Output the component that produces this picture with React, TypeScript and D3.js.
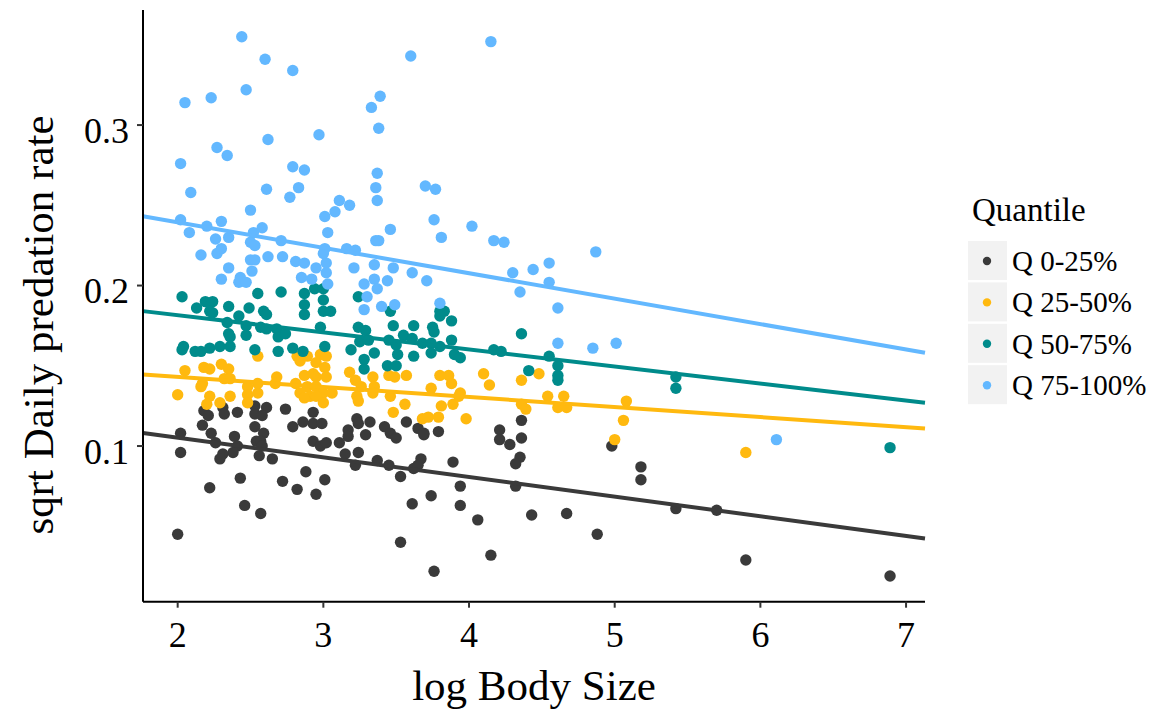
import React from "react";
import * as d3 from "d3";

const groups = ["Q 0-25%", "Q 25-50%", "Q 50-75%", "Q 75-100%"];
const colors = ["#3A3A3A", "#FFB90F", "#008B8B", "#63B8FF"];

const q1: [number, number][] = [
  [2.18, 0.122], [2.21, 0.119], [2.31, 0.124], [2.32, 0.12], [2.41, 0.121], [2.53, 0.125], [2.53, 0.12], [2.61, 0.124],
  [2.58, 0.119], [2.74, 0.123], [2.93, 0.121], [2.86, 0.115], [2.93, 0.114], [2.99, 0.114], [2.79, 0.112], [2.17, 0.113],
  [2.02, 0.108], [2.23, 0.108], [2.26, 0.102], [2.39, 0.106], [2.53, 0.112], [2.59, 0.108], [2.54, 0.103], [2.57, 0.103],
  [2.58, 0.1], [2.41, 0.1], [2.38, 0.096], [2.31, 0.095], [2.29, 0.092], [2.56, 0.094], [2.65, 0.092], [2.02, 0.096],
  [2.93, 0.103], [2.98, 0.1], [3.02, 0.102], [2.88, 0.084], [2.43, 0.08], [2.72, 0.078], [2.82, 0.073], [2.95, 0.07],
  [3.01, 0.079], [2.22, 0.074], [2.46, 0.063], [2.57, 0.058], [2.0, 0.045], [3.23, 0.117], [3.24, 0.114], [3.32, 0.115],
  [3.17, 0.11], [3.17, 0.106], [3.29, 0.107], [3.11, 0.102], [3.42, 0.112], [3.46, 0.108], [3.5, 0.105], [3.57, 0.115],
  [3.65, 0.111], [3.69, 0.107], [3.69, 0.108], [3.79, 0.109], [4.21, 0.11], [4.21, 0.104], [3.15, 0.095], [3.24, 0.096],
  [3.22, 0.088], [3.37, 0.091], [3.45, 0.088], [3.67, 0.092], [3.62, 0.086], [3.65, 0.088], [3.53, 0.081], [3.89, 0.09],
  [3.94, 0.075], [3.94, 0.063], [3.74, 0.069], [3.61, 0.064], [4.06, 0.054], [3.53, 0.04], [4.15, 0.032], [3.76, 0.022],
  [4.36, 0.116], [4.28, 0.101], [4.36, 0.105], [4.35, 0.093], [4.32, 0.089], [4.98, 0.1], [5.18, 0.087], [5.18, 0.079],
  [4.32, 0.075], [4.43, 0.057], [4.67, 0.058], [4.88, 0.045], [5.42, 0.061], [5.7, 0.06], [5.9, 0.029], [6.89, 0.019],
];

const q2: [number, number][] = [
  [2.55, 0.156], [2.05, 0.147], [2.18, 0.149], [2.22, 0.148], [2.3, 0.151], [2.35, 0.148], [2.32, 0.142], [2.36, 0.142],
  [2.17, 0.139], [2.16, 0.137], [2.0, 0.132], [2.22, 0.131], [2.36, 0.131], [2.48, 0.137], [2.48, 0.132], [2.55, 0.133],
  [2.55, 0.139], [2.68, 0.143], [2.67, 0.139], [2.82, 0.156], [2.84, 0.153], [2.89, 0.156], [2.98, 0.157], [3.02, 0.156],
  [2.95, 0.152], [3.01, 0.149], [2.93, 0.145], [2.87, 0.144], [2.95, 0.143], [3.02, 0.143], [2.81, 0.139], [2.89, 0.137],
  [2.95, 0.137], [2.84, 0.133], [2.91, 0.131], [3.0, 0.133], [3.18, 0.146], [3.22, 0.141], [3.34, 0.143], [3.26, 0.137],
  [3.35, 0.137], [3.45, 0.144], [3.49, 0.143], [3.57, 0.144], [3.8, 0.144], [3.86, 0.144], [3.88, 0.139], [4.1, 0.145],
  [4.14, 0.138], [3.74, 0.136], [3.94, 0.133], [2.2, 0.126], [2.29, 0.127], [2.48, 0.127], [2.87, 0.13], [2.95, 0.131],
  [3.0, 0.127], [3.06, 0.133], [3.23, 0.131], [3.24, 0.128], [3.34, 0.133], [3.46, 0.131], [3.56, 0.126], [3.48, 0.121],
  [3.68, 0.117], [3.72, 0.118], [3.79, 0.118], [3.81, 0.125], [3.89, 0.126], [3.93, 0.131], [3.98, 0.117], [4.36, 0.141],
  [4.48, 0.145], [4.54, 0.131], [4.65, 0.131], [4.61, 0.124], [4.67, 0.124], [4.36, 0.126], [4.39, 0.123], [5.08, 0.128],
  [5.06, 0.116], [5.0, 0.104], [5.9, 0.096],
];

const q3: [number, number][] = [
  [2.03, 0.193], [2.13, 0.186], [2.19, 0.19], [2.24, 0.19], [2.22, 0.184], [2.24, 0.183], [2.35, 0.187], [2.49, 0.186],
  [2.55, 0.195], [2.71, 0.196], [2.59, 0.184], [2.61, 0.182], [2.87, 0.195], [2.87, 0.188], [2.87, 0.182], [2.94, 0.198],
  [3.0, 0.198], [3.0, 0.191], [3.0, 0.184], [2.42, 0.181], [2.34, 0.177], [2.35, 0.17], [2.36, 0.168], [2.47, 0.175],
  [2.47, 0.169], [2.57, 0.174], [2.61, 0.173], [2.68, 0.173], [2.69, 0.168], [2.74, 0.17], [2.98, 0.174], [2.04, 0.162],
  [2.03, 0.16], [2.12, 0.159], [2.16, 0.159], [2.22, 0.161], [2.29, 0.162], [2.36, 0.162], [2.53, 0.16], [2.69, 0.159],
  [2.79, 0.161], [2.86, 0.159], [3.01, 0.162], [3.24, 0.193], [3.05, 0.184], [3.46, 0.184], [3.8, 0.184], [3.83, 0.184],
  [3.8, 0.181], [3.88, 0.178], [3.24, 0.174], [3.29, 0.172], [3.48, 0.175], [3.62, 0.175], [3.75, 0.174], [3.76, 0.171],
  [3.88, 0.166], [3.55, 0.169], [3.61, 0.167], [3.45, 0.166], [3.25, 0.165], [3.31, 0.166], [3.68, 0.164], [3.74, 0.164],
  [3.74, 0.158], [3.8, 0.162], [4.17, 0.16], [3.19, 0.16], [3.35, 0.158], [3.51, 0.157], [3.5, 0.163], [3.62, 0.156],
  [3.9, 0.157], [3.94, 0.155], [3.28, 0.154], [3.28, 0.148], [3.44, 0.15], [3.5, 0.15], [4.36, 0.17], [4.22, 0.159],
  [4.55, 0.156], [4.61, 0.15], [4.61, 0.144], [4.61, 0.141], [4.41, 0.147], [5.42, 0.143], [5.42, 0.136], [6.89, 0.099],
];

const q4: [number, number][] = [
  [2.44, 0.355], [2.6, 0.341], [2.79, 0.334], [2.47, 0.322], [2.23, 0.317], [2.05, 0.314], [2.97, 0.294], [2.62, 0.291],
  [2.27, 0.286], [2.34, 0.281], [2.02, 0.276], [2.79, 0.274], [2.87, 0.272], [2.09, 0.258], [2.61, 0.26], [2.83, 0.261],
  [2.77, 0.255], [2.5, 0.247], [3.01, 0.243], [2.02, 0.241], [2.08, 0.233], [2.2, 0.237], [2.3, 0.24], [2.26, 0.229],
  [2.35, 0.23], [2.5, 0.227], [2.53, 0.225], [2.52, 0.233], [2.58, 0.236], [2.71, 0.228], [3.03, 0.233], [3.01, 0.223],
  [4.15, 0.352], [3.6, 0.343], [3.39, 0.318], [3.33, 0.311], [3.38, 0.298], [3.37, 0.27], [3.36, 0.261], [3.37, 0.253],
  [3.7, 0.262], [3.77, 0.26], [3.11, 0.253], [3.18, 0.25], [3.08, 0.246], [3.76, 0.241], [4.02, 0.237], [3.46, 0.235],
  [3.81, 0.23], [4.17, 0.228], [3.36, 0.228], [3.38, 0.228], [3.16, 0.223], [3.22, 0.222], [3.02, 0.214], [3.02, 0.208],
  [3.21, 0.211], [3.35, 0.213], [3.48, 0.211], [3.61, 0.208], [3.35, 0.204], [3.44, 0.203], [3.71, 0.203], [3.03, 0.201],
  [3.28, 0.201], [3.37, 0.198], [3.3, 0.193], [3.4, 0.187], [3.49, 0.188], [3.28, 0.185], [3.8, 0.189], [2.16, 0.219],
  [2.27, 0.22], [2.3, 0.223], [2.5, 0.216], [2.53, 0.216], [2.62, 0.218], [2.72, 0.218], [2.81, 0.215], [2.87, 0.214],
  [2.95, 0.211], [3.0, 0.22], [2.35, 0.211], [2.51, 0.209], [2.3, 0.204], [2.43, 0.205], [2.42, 0.202], [2.47, 0.202],
  [2.92, 0.204], [2.85, 0.205], [4.24, 0.227], [4.87, 0.221], [4.3, 0.208], [4.44, 0.21], [4.55, 0.214], [4.55, 0.202],
  [4.35, 0.196], [4.61, 0.186], [4.61, 0.164], [4.85, 0.161], [5.01, 0.164], [6.11, 0.104],
];

const series = [q1, q2, q3, q4];
// fitted lines: [intercept, slope]
const fitIntercepts = [0.1297, 0.1556, 0.2028, 0.2711];
const fitSlopes = [-0.012245, -0.00626, -0.010637, -0.015853];

const xTicks = [2, 3, 4, 5, 6, 7];
const yTicks = [0.1, 0.2, 0.3];

const FONT = "'Liberation Serif', 'Times New Roman', serif";

export default function App() {
  const W = 1158, H = 720;
  const left = 143, right = 925, top = 10, bottom = 601.7;
  const xDomain: [number, number] = [1.762, 7.13];
  const x = d3.scaleLinear().domain(xDomain).range([left, right]);
  const y = d3.scaleLinear().domain([0.003, 0.3717]).range([bottom, top]);

  return (
    <svg width={W} height={H} style={{ position: "absolute", left: 0, top: 0, background: "#fff" }}
      fontFamily={FONT}>
      {series.map((pts, gi) => (
        <g key={gi} fill={colors[gi]}>
          {pts.map((p, i) => (
            <circle key={i} cx={x(p[0])} cy={y(p[1])} r={5.7} />
          ))}
        </g>
      ))}
      {fitIntercepts.map((b, gi) => {
        const f = (v: number) => b + fitSlopes[gi] * v;
        const gen = d3.line<number>().x((v) => x(v)).y((v) => y(f(v)));
        return <path key={gi} d={gen(xDomain) || ""} stroke={colors[gi]} strokeWidth={4} fill="none" />;
      })}
      <line x1={left} x2={left} y1={top} y2={bottom} stroke="#000" strokeWidth={2} />
      <line x1={left} x2={right} y1={bottom} y2={bottom} stroke="#000" strokeWidth={2} />
      {xTicks.map((t) => (
        <g key={t}>
          <line x1={x(t)} x2={x(t)} y1={bottom} y2={bottom + 6} stroke="#333" strokeWidth={2} />
          <text x={x(t)} y={646.5} textAnchor="middle" fontSize={36} fill="#000">{t}</text>
        </g>
      ))}
      {yTicks.map((t) => (
        <g key={t}>
          <line x1={left - 6} x2={left} y1={y(t)} y2={y(t)} stroke="#333" strokeWidth={2} />
          <text x={129} y={y(t) + 17.5} textAnchor="end" fontSize={36} fill="#000">{d3.format(".1f")(t)}</text>
        </g>
      ))}
      <text x={(left + right) / 2} y={700} textAnchor="middle" fontSize={43} fill="#000">log Body Size</text>
      <text transform={`translate(53,${325}) rotate(-90)`} textAnchor="middle" fontSize={43} fill="#000">
        sqrt Daily predation rate
      </text>
      <text x={972} y={221} fontSize={33} fill="#000">Quantile</text>
      {groups.map((g, i) => {
        const cy = 261 + i * 41.4;
        return (
          <g key={g}>
            <rect x={968} y={cy - 20} width={39} height={39} fill="#F2F2F2" />
            <circle cx={987} cy={cy} r={4.2} fill={colors[i]} />
            <text x={1012} y={cy + 10} fontSize={29} fill="#000">{g}</text>
          </g>
        );
      })}
    </svg>
  );
}
